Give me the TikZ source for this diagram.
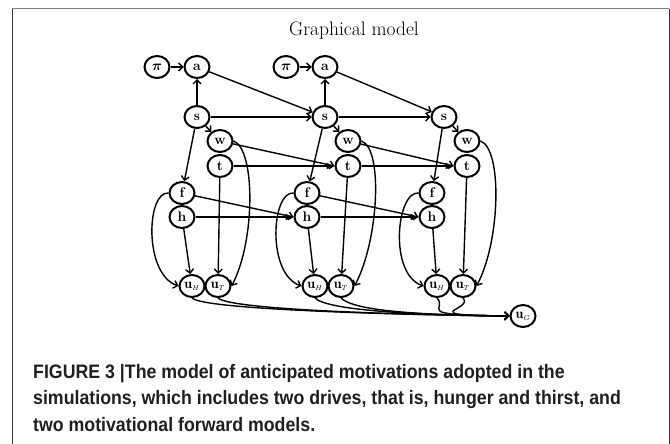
\documentclass[tikz,border=0pt]{standalone}
\usepackage{bm}
\usepackage{fontspec}
\usetikzlibrary{shapes.geometric,arrows.meta}
\newfontfamily\capfont[FakeStretch=0.91]{Liberation Sans}
\begin{document}
\begin{tikzpicture}[x=1pt,y=-1pt,
    var/.style={ellipse,draw,line width=2pt,minimum width=25pt,minimum height=22pt,
      inner sep=0pt,font=\fontsize{14}{15}\selectfont\bfseries},
    edge/.style={line width=1.4pt,-{Straight Barb[length=4pt,width=8pt]}},
    chain/.style={line width=1.4pt,-{Latex[length=8pt,width=7pt]}}]
  \useasboundingbox (0,0) rectangle (670,444);

  % frame and title
  \draw[gray,line width=1pt] (12,9) -- (669,9);
  \draw[black!80,line width=1pt] (12,9) -- (12,444);
  \draw[black!80,line width=1pt] (669,9) -- (669,444);
  \node (title) at (354,31) {\fontsize{19.5}{21}\selectfont Graphical model};

  % one time slice per column
  \foreach \i/\sx/\fx/\ux in {1/197/182/192, 2/325/307/315, 3/444/432/437} {
    \node[var] (s\i) at (\sx,117) {s};
    \node[var] (w\i) at (\sx+23,141) {w};
    \node[var] (t\i) at (\sx+23,166) {t};
    \node[var] (f\i) at (\fx,193) {f};
    \node[var] (h\i) at (\fx,217) {h};
    \node[var] (uH\i) at (\ux,286) {$\mathbf{u}_{\scriptscriptstyle H}$};
    \node[var] (uT\i) at (\ux+26,286) {$\mathbf{u}_{\scriptscriptstyle T}$};
  }
  \node[var] (pione) at (157,67) {$\bm{\pi}$};
  \node[var] (a1) at (197,67) {a};
  \node[var] (pitwo) at (286,67) {$\bm{\pi}$};
  \node[var] (a2) at (325,67) {a};
  \node[var] (uG) at (523,316) {$\mathbf{u}_{\scriptscriptstyle G}$};

  % edges inside a slice
  \draw[edge] (pione) -- (a1);
  \draw[edge] (pitwo) -- (a2);
  \foreach \i in {1,2} {
    \draw[edge] (s\i) -- (a\i);
  }
  \foreach \i in {1,2,3} {
    \draw[edge] (s\i) -- (w\i);
    \draw[edge] (s\i) -- (f\i);
    \draw[edge] (t\i) -- (uT\i);
    \draw[edge] (h\i) -- (uH\i);
    \draw[edge] (w\i.east) .. controls +(22,8) and +(24,-45) .. (uT\i.east);
    \draw[edge] (f\i.west) .. controls +(-22,-2) and +(-35,-12) .. (uH\i.west);
    \draw[edge] (uH\i.south) .. controls +(12,12) and +(-100,-1) .. (uG.west);
    \draw[edge] (uT\i.south) .. controls +(12,12) and +(-100,-1) .. (uG.west);
  }

  % edges between slices
  \foreach \i/\j in {1/2,2/3} {
    \draw[edge] (a\i) -- (s\j);
    \draw[edge] (s\i) -- (s\j);
    \draw[edge] (w\i) -- (t\j.west);
    \draw[chain] (t\i) -- (t\j);
    \draw[edge] (f\i) -- (h\j.west);
    \draw[chain] (h\i) -- (h\j);
  }

  % caption
  \node[anchor=base west,align=left,inner sep=0pt,text=black!88,
    font=\capfont\bfseries\fontsize{19.5}{26.5}\selectfont] (caption) at (33,431)
    {FIGURE 3 |The model of anticipated motivations adopted in the\\
     simulations, which includes two drives, that is, hunger and thirst, and\\
     two motivational forward models.};
\end{tikzpicture}
\end{document}
